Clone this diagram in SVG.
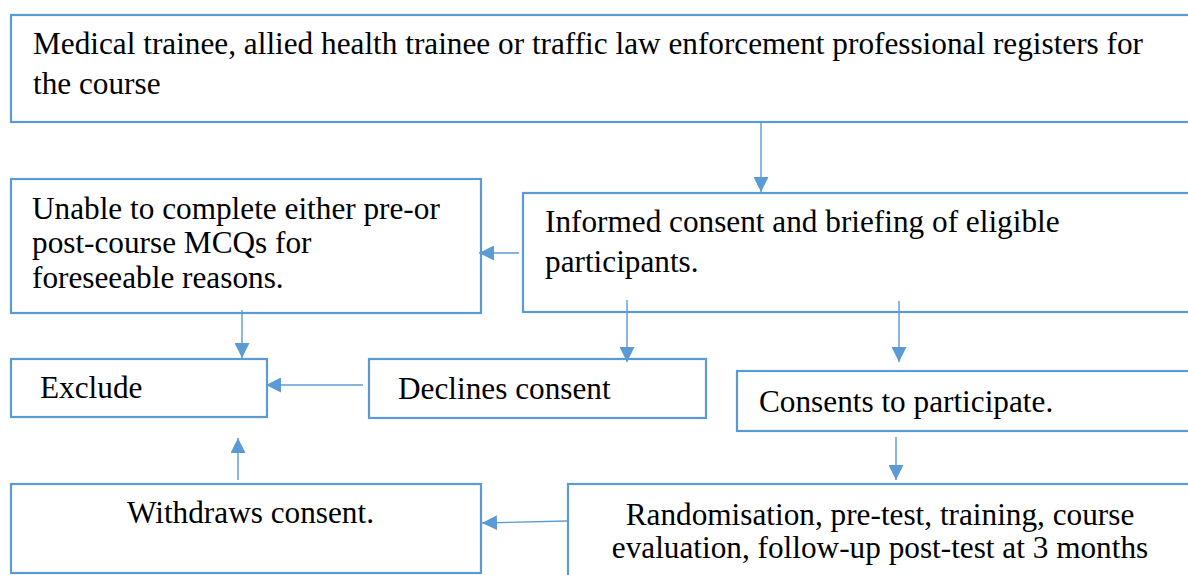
<svg xmlns="http://www.w3.org/2000/svg" width="1188" height="575" viewBox="0 0 1188 575">
<style>
.box{fill:#fff;stroke:#5B9BD5;stroke-width:2.2}
.t{font-family:"Liberation Serif","Times New Roman",serif;font-size:31.25px;fill:#000}
.c{fill:none;stroke:#5B9BD5;stroke-width:1.4;marker-end:url(#ah)}
</style>
<defs>
<marker id="ah" markerUnits="userSpaceOnUse" markerWidth="15" markerHeight="15" refX="15" refY="7.5" orient="auto" viewBox="0 0 15 15">
<path d="M0,0 L15,7.5 L0,15 z" fill="#5B9BD5"/>
</marker>
</defs>
<rect width="1188" height="575" fill="#fff"/>
<g id="n-register">
<rect class="box" x="11" y="15" width="1190" height="107"/>
<text class="t" x="33" y="54">Medical trainee, allied health trainee or traffic law enforcement professional registers for</text>
<text class="t" x="33" y="94">the course</text>
</g>
<g id="n-unable">
<rect class="box" x="11" y="179" width="470" height="134"/>
<text class="t" x="32" y="219">Unable to complete either pre-or</text>
<text class="t" x="32" y="253">post-course MCQs for</text>
<text class="t" x="32" y="288">foreseeable reasons.</text>
</g>
<g id="n-informed">
<rect class="box" x="523" y="193" width="680" height="119"/>
<text class="t" x="545" y="232">Informed consent and briefing of eligible</text>
<text class="t" x="545" y="272">participants.</text>
</g>
<g id="n-exclude">
<rect class="box" x="11" y="359" width="256" height="58"/>
<text class="t" x="40" y="398">Exclude</text>
</g>
<g id="n-declines">
<rect class="box" x="369" y="359" width="337" height="59"/>
<text class="t" x="398" y="399">Declines consent</text>
</g>
<g id="n-consents">
<rect class="box" x="737" y="371" width="470" height="60"/>
<text class="t" x="759" y="412">Consents to participate.</text>
</g>
<g id="n-withdraws">
<rect class="box" x="11" y="484" width="470" height="89"/>
<text class="t" x="127" y="523">Withdraws consent.</text>
</g>
<g id="n-random">
<rect class="box" x="568" y="484" width="640" height="110"/>
<text class="t" x="880" y="525" text-anchor="middle">Randomisation, pre-test, training, course</text>
<text class="t" x="880" y="558" text-anchor="middle">evaluation, follow-up post-test at 3 months</text>
</g>
<g id="connectors">
<path class="c" d="M761,122 L761,192"/>
<path class="c" d="M519,253 L479,253"/>
<path class="c" d="M627,300 L627,362"/>
<path class="c" d="M899,301 L899,362"/>
<path class="c" d="M242,310 L242,358"/>
<path class="c" d="M363,385 L266,385"/>
<path class="c" d="M896,437 L896,480"/>
<path class="c" d="M238,480 L238,438"/>
<path class="c" d="M567,521 L482,523"/>
</g>
</svg>
